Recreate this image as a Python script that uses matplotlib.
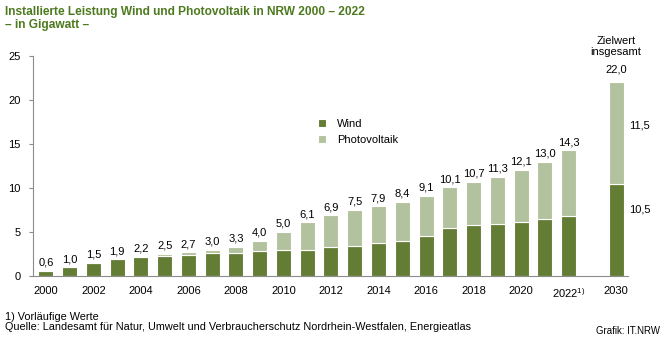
'''
Installierte Leistung Wind und Photovoltaik in NRW 2000 - 2022 (plus Ziel 2030)
'''
import matplotlib
matplotlib.use('Agg')
import matplotlib.pyplot as plt
import numpy as np

plt.rcParams['font.family'] = ['Liberation Sans', 'DejaVu Sans']
plt.rcParams['mathtext.fontset'] = 'custom'
plt.rcParams['mathtext.rm'] = 'Liberation Sans'
plt.rcParams['mathtext.it'] = 'Liberation Sans'

# data (GW)
years = ['2000', '2001', '2002', '2003', '2004', '2005', '2006', '2007', '2008',
         '2009', '2010', '2011', '2012', '2013', '2014', '2015', '2016', '2017',
         '2018', '2019', '2020', '2021', '2022', '2030']
wind = [0.6, 1.0, 1.5, 1.9, 2.2, 2.3, 2.4, 2.6, 2.6, 2.8, 2.9, 3.0, 3.3, 3.4,
        3.7, 4.0, 4.6, 5.4, 5.8, 5.9, 6.1, 6.5, 6.8, 10.5]
pv = [0.0, 0.0, 0.0, 0.0, 0.0, 0.2, 0.3, 0.4, 0.7, 1.2, 2.1, 3.1, 3.6, 4.1,
      4.2, 4.4, 4.5, 4.7, 4.9, 5.4, 6.0, 6.5, 7.5, 11.5]
tick_labels = ['2000', '2002', '2004', '2006', '2008', '2010', '2012', '2014',
               '2016', '2018', '2020', '2022$^{1)}$', '2030']

dark = '#647d35'
light = '#b3c29e'
title_col = '#4d7a1e'
axis_col = '#8c8c8c'

# positions: one slot per year, 2030 two slots after 2022
pos = np.arange(len(years), dtype=float)
pos[-1] = 24
wind = np.array(wind)
pv = np.array(pv)
total = np.round(wind + pv, 1)

fig = plt.figure(figsize=(6.68, 3.46), dpi=100)
ax = fig.add_axes([33 / 668, 1 - 276 / 346, (628 - 33) / 668, (276 - 56) / 346])

ax.bar(pos, wind, width=0.63, color=dark, edgecolor='white', linewidth=0.8, label='Wind')
ax.bar(pos, pv, width=0.63, bottom=wind, color=light, edgecolor='white', linewidth=0.8,
       label='Photovoltaik')

def fmt(v):
    return '{:.1f}'.format(v).replace('.', ',')

for x, t in zip(pos[:-1], total[:-1]):
    ax.text(x, t + 0.35, fmt(t), ha='center', va='bottom', fontsize=8)

# 2030 target annotations
ax.text(pos[-1], total[-1] + 0.9, fmt(total[-1]), ha='center', va='bottom', fontsize=8)
ax.text(pos[-1], total[-1] + 2.9, 'Zielwert\ninsgesamt', ha='center', va='bottom',
        fontsize=8, linespacing=1.05)
ax.text(pos[-1] + 1.0, wind[-1] + pv[-1] * 0.57, fmt(pv[-1]), ha='center', va='center', fontsize=8)
ax.text(pos[-1] + 1.0, wind[-1] * 0.72, fmt(wind[-1]), ha='center', va='center', fontsize=8)

ax.set_xlim(-0.54, 24.5)
ax.set_ylim(0, 25)
ax.set_yticks([0, 5, 10, 15, 20, 25])
tick_pos = list(range(0, 23, 2)) + [24]
ax.set_xticks(tick_pos)
ax.set_xticklabels(tick_labels)
ax.tick_params(axis='x', length=0, pad=7, labelsize=8)
ax.tick_params(axis='y', length=3, color=axis_col, labelsize=8, pad=6)
for s in ['top', 'right']:
    ax.spines[s].set_visible(False)
for s in ['left', 'bottom']:
    ax.spines[s].set_color(axis_col)
    ax.spines[s].set_linewidth(0.8)

ax.legend(loc='upper left', bbox_to_anchor=(0.462, 0.76), frameon=False, fontsize=8,
          handlelength=0.7, handleheight=0.7, handletextpad=1.0, labelspacing=0.55)

fig.text(5 / 668, 1 - 18.7 / 346, 'Installierte Leistung Wind und Photovoltaik in NRW 2000 \u2013 2022\n\u2013 in Gigawatt \u2013',
         ha='left', va='center', fontsize=8.6, fontweight='bold', color=title_col, linespacing=1.1)
small = ['Liberation Sans Narrow', 'Liberation Sans', 'DejaVu Sans']
fig.text(5 / 668, 1 - 317 / 346, '1) Vorläufige Werte', ha='left', va='center', fontsize=7.8,
         family=small)
fig.text(5 / 668, 1 - 327 / 346,
         'Quelle: Landesamt für Natur, Umwelt und Verbraucherschutz Nordrhein-Westfalen, Energieatlas',
         ha='left', va='center', fontsize=7.8, family=small)
fig.text(660 / 668, 1 - 331 / 346, 'Grafik: IT.NRW', ha='right', va='center', fontsize=6.9,
         family=small)

plt.savefig('out.png', dpi=100)
